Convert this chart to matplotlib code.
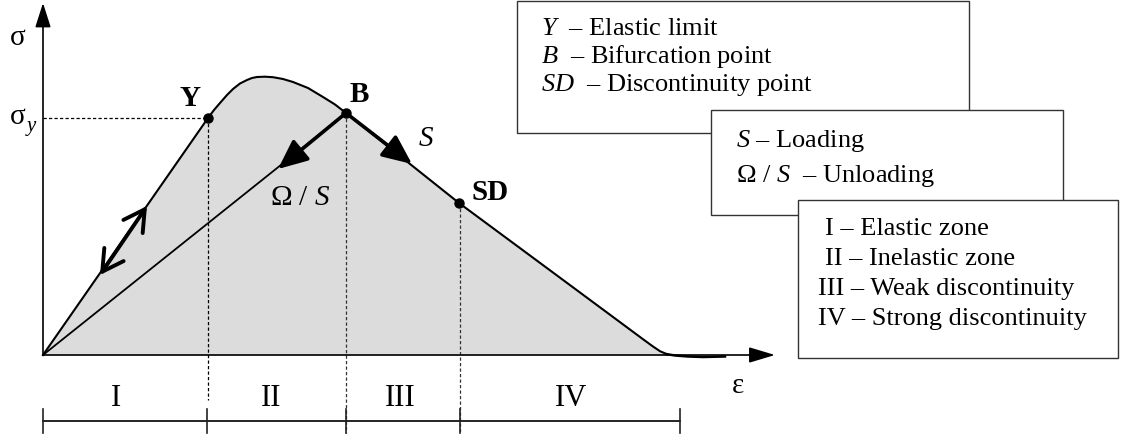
import matplotlib
matplotlib.use('Agg')
import matplotlib.pyplot as plt
from matplotlib.patches import Rectangle

plt.rcParams['font.family'] = ['Liberation Serif', 'DejaVu Serif']
plt.rcParams['mathtext.fontset'] = 'custom'
plt.rcParams['mathtext.rm'] = 'Liberation Serif'
plt.rcParams['mathtext.it'] = 'Liberation Serif:italic'
plt.rcParams['mathtext.bf'] = 'Liberation Serif:bold'

# ---- data (schematic strain / stress units) ----
strain = [0, 165, 171, 177, 184, 190, 197, 204, 209, 214, 222, 230, 240, 250, 265,
          280, 292, 303, 416, 487, 549, 600, 610, 617, 624]
stress = [0, 237, 245, 252, 260, 266, 271.5, 275, 277, 278, 278.3, 277.8, 276, 273, 267,
          258, 250.5, 242, 152, 99.5, 53.6, 15.8, 8.5, 3.8, 0.8]
tail_strain = [624, 632, 645, 660, 682]
tail_stress = [0.8, -0.5, -1.5, -2, -1.5]

point_names = ['Y', 'B', 'SD']
point_strain = [165, 303, 416]
point_stress = [237, 242, 152]

zone_edges = [0, 164, 303, 417, 637]
zone_labels = ['I', 'II', 'III', 'IV']
zone_label_x = [73, 228, 357, 528]

box1_keys = ['$Y$', '$B$', '$SD$']
box1_desc = ['  – Elastic limit', '  – Bifurcation point', '  – Discontinuity point']
box2_lines = ['$S$ – Loading', 'Ω / $S$  – Unloading']
box3_lines = ['I – Elastic zone', 'II – Inelastic zone',
              'III – Weak discontinuity', 'IV – Strong discontinuity']

# ---- figure ----
fig = plt.figure(figsize=(11.21, 4.41), dpi=100)
ax = fig.add_axes([0, 0, 1, 1])
ax.set_xlim(-43, 1078)
ax.set_ylim(-86, 355)
ax.axis('off')

# filled area under curve
ax.fill_between(strain, stress, 0, color='#dcdcdc', lw=0, zorder=1)

# dashed guide lines
dash = (0, (2.6, 1.8))
ax.plot([0, point_strain[0]], [point_stress[0]] * 2, color='black', lw=0.9, ls=dash, zorder=2)
ax.plot([point_strain[0]] * 2, [point_stress[0], -45], color='black', lw=0.9, ls=dash, zorder=2)
ax.plot([point_strain[1]] * 2, [point_stress[1], -78], color='#333333', lw=0.9, ls=dash, zorder=2)
ax.plot([point_strain[2] + 1] * 2, [point_stress[2], -78], color='#333333', lw=0.9, ls=dash, zorder=2)

# axes arrows
ax.annotate('', xy=(732, 0), xytext=(0, 0),
            arrowprops=dict(arrowstyle='-|>,head_length=0.8,head_width=0.24',
                            mutation_scale=20, lw=1.2, color='black', shrinkA=0, shrinkB=0),
            zorder=3)
ax.annotate('', xy=(0, 352), xytext=(0, 0),
            arrowprops=dict(arrowstyle='-|>,head_length=0.75,head_width=0.24',
                            mutation_scale=20, lw=1.2, color='black', shrinkA=0, shrinkB=0),
            zorder=3)

# curve
ax.plot(strain, stress, color='black', lw=1.5, zorder=4, solid_joinstyle='round')
ax.plot(tail_strain, tail_stress, color='black', lw=1.8, zorder=4, solid_joinstyle='round')
# unloading line
ax.plot([0, point_strain[1]], [0, point_stress[1]], color='black', lw=1.3, zorder=4)

# thick arrows from B
ax.annotate('', xy=(235, 186), xytext=(point_strain[1], point_stress[1]),
            arrowprops=dict(arrowstyle='-|>,head_length=0.9,head_width=0.4',
                            mutation_scale=20, lw=2.6, color='black', shrinkA=0, shrinkB=0),
            zorder=5)
ax.annotate('', xy=(369, 191), xytext=(point_strain[1], point_stress[1]),
            arrowprops=dict(arrowstyle='-|>,head_length=0.9,head_width=0.4',
                            mutation_scale=20, lw=2.6, color='black', shrinkA=0, shrinkB=0),
            zorder=5)
# double arrow on elastic branch
ax.annotate('', xy=(104, 149), xytext=(57, 80),
            arrowprops=dict(arrowstyle='<->,head_length=0.75,head_width=0.42',
                            mutation_scale=20, lw=2.8, color='black', shrinkA=0, shrinkB=0),
            zorder=5)

# points
ax.plot(point_strain, point_stress, 'o', color='black', ms=6.5, zorder=6)

# point labels
ax.text(147, 257, 'Y', fontsize=21, fontweight='bold', ha='center', va='center', zorder=7)
ax.text(316, 261, 'B', fontsize=21, fontweight='bold', ha='center', va='center', zorder=7)
ax.text(447, 163, 'SD', fontsize=21, fontweight='bold', ha='center', va='center', zorder=7)
ax.text(383, 216, '$S$', fontsize=21, ha='center', va='center', zorder=7)
ax.text(257, 157, 'Ω / $S$', fontsize=21, ha='center', va='center', zorder=7)

# axis labels
ax.text(-25, 317, 'σ', fontsize=21, ha='center', va='center')
ax.text(-25, 238, 'σ', fontsize=21, ha='center', va='center')
ax.text(-11, 227, '$y$', fontsize=15, ha='center', va='center')
ax.text(695, -31, 'ε', fontsize=21, ha='center', va='center')

# zone bar
ax.plot([zone_edges[0], zone_edges[-1]], [-66, -66], color='black', lw=1.2)
for e in zone_edges:
    ax.plot([e, e], [-54, -78], color='#222222', lw=1.2)
for lab, x in zip(zone_labels, zone_label_x):
    ax.text(x, -43, lab, fontsize=22, ha='center', va='center')

# boxes
def box(x0, x1, y0, y1, z):
    ax.add_patch(Rectangle((x0, y0), x1 - x0, y1 - y0, facecolor='white',
                           edgecolor='#333333', lw=1.0, zorder=z))

box(474, 926, 222, 354, 8)
for i, (k, d) in enumerate(zip(box1_keys, box1_desc)):
    y = 355 - (35 + 28 * i)
    ax.text(498, y, k + d, fontsize=19, ha='left', va='baseline', zorder=9)

box(668, 1020, 140, 245, 10)
for i, s in enumerate(box2_lines):
    ax.text(693, 355 - (147 + 35 * i), s, fontsize=19, ha='left', va='baseline', zorder=11)

box(755, 1075, -3, 155, 12)
box3_x = [782, 782, 775, 775]
for i, (s, x) in enumerate(zip(box3_lines, box3_x)):
    ax.text(x, 355 - (235 + 30 * i), s, fontsize=19, ha='left', va='baseline', zorder=13)

fig.savefig('out.png', dpi=100)
